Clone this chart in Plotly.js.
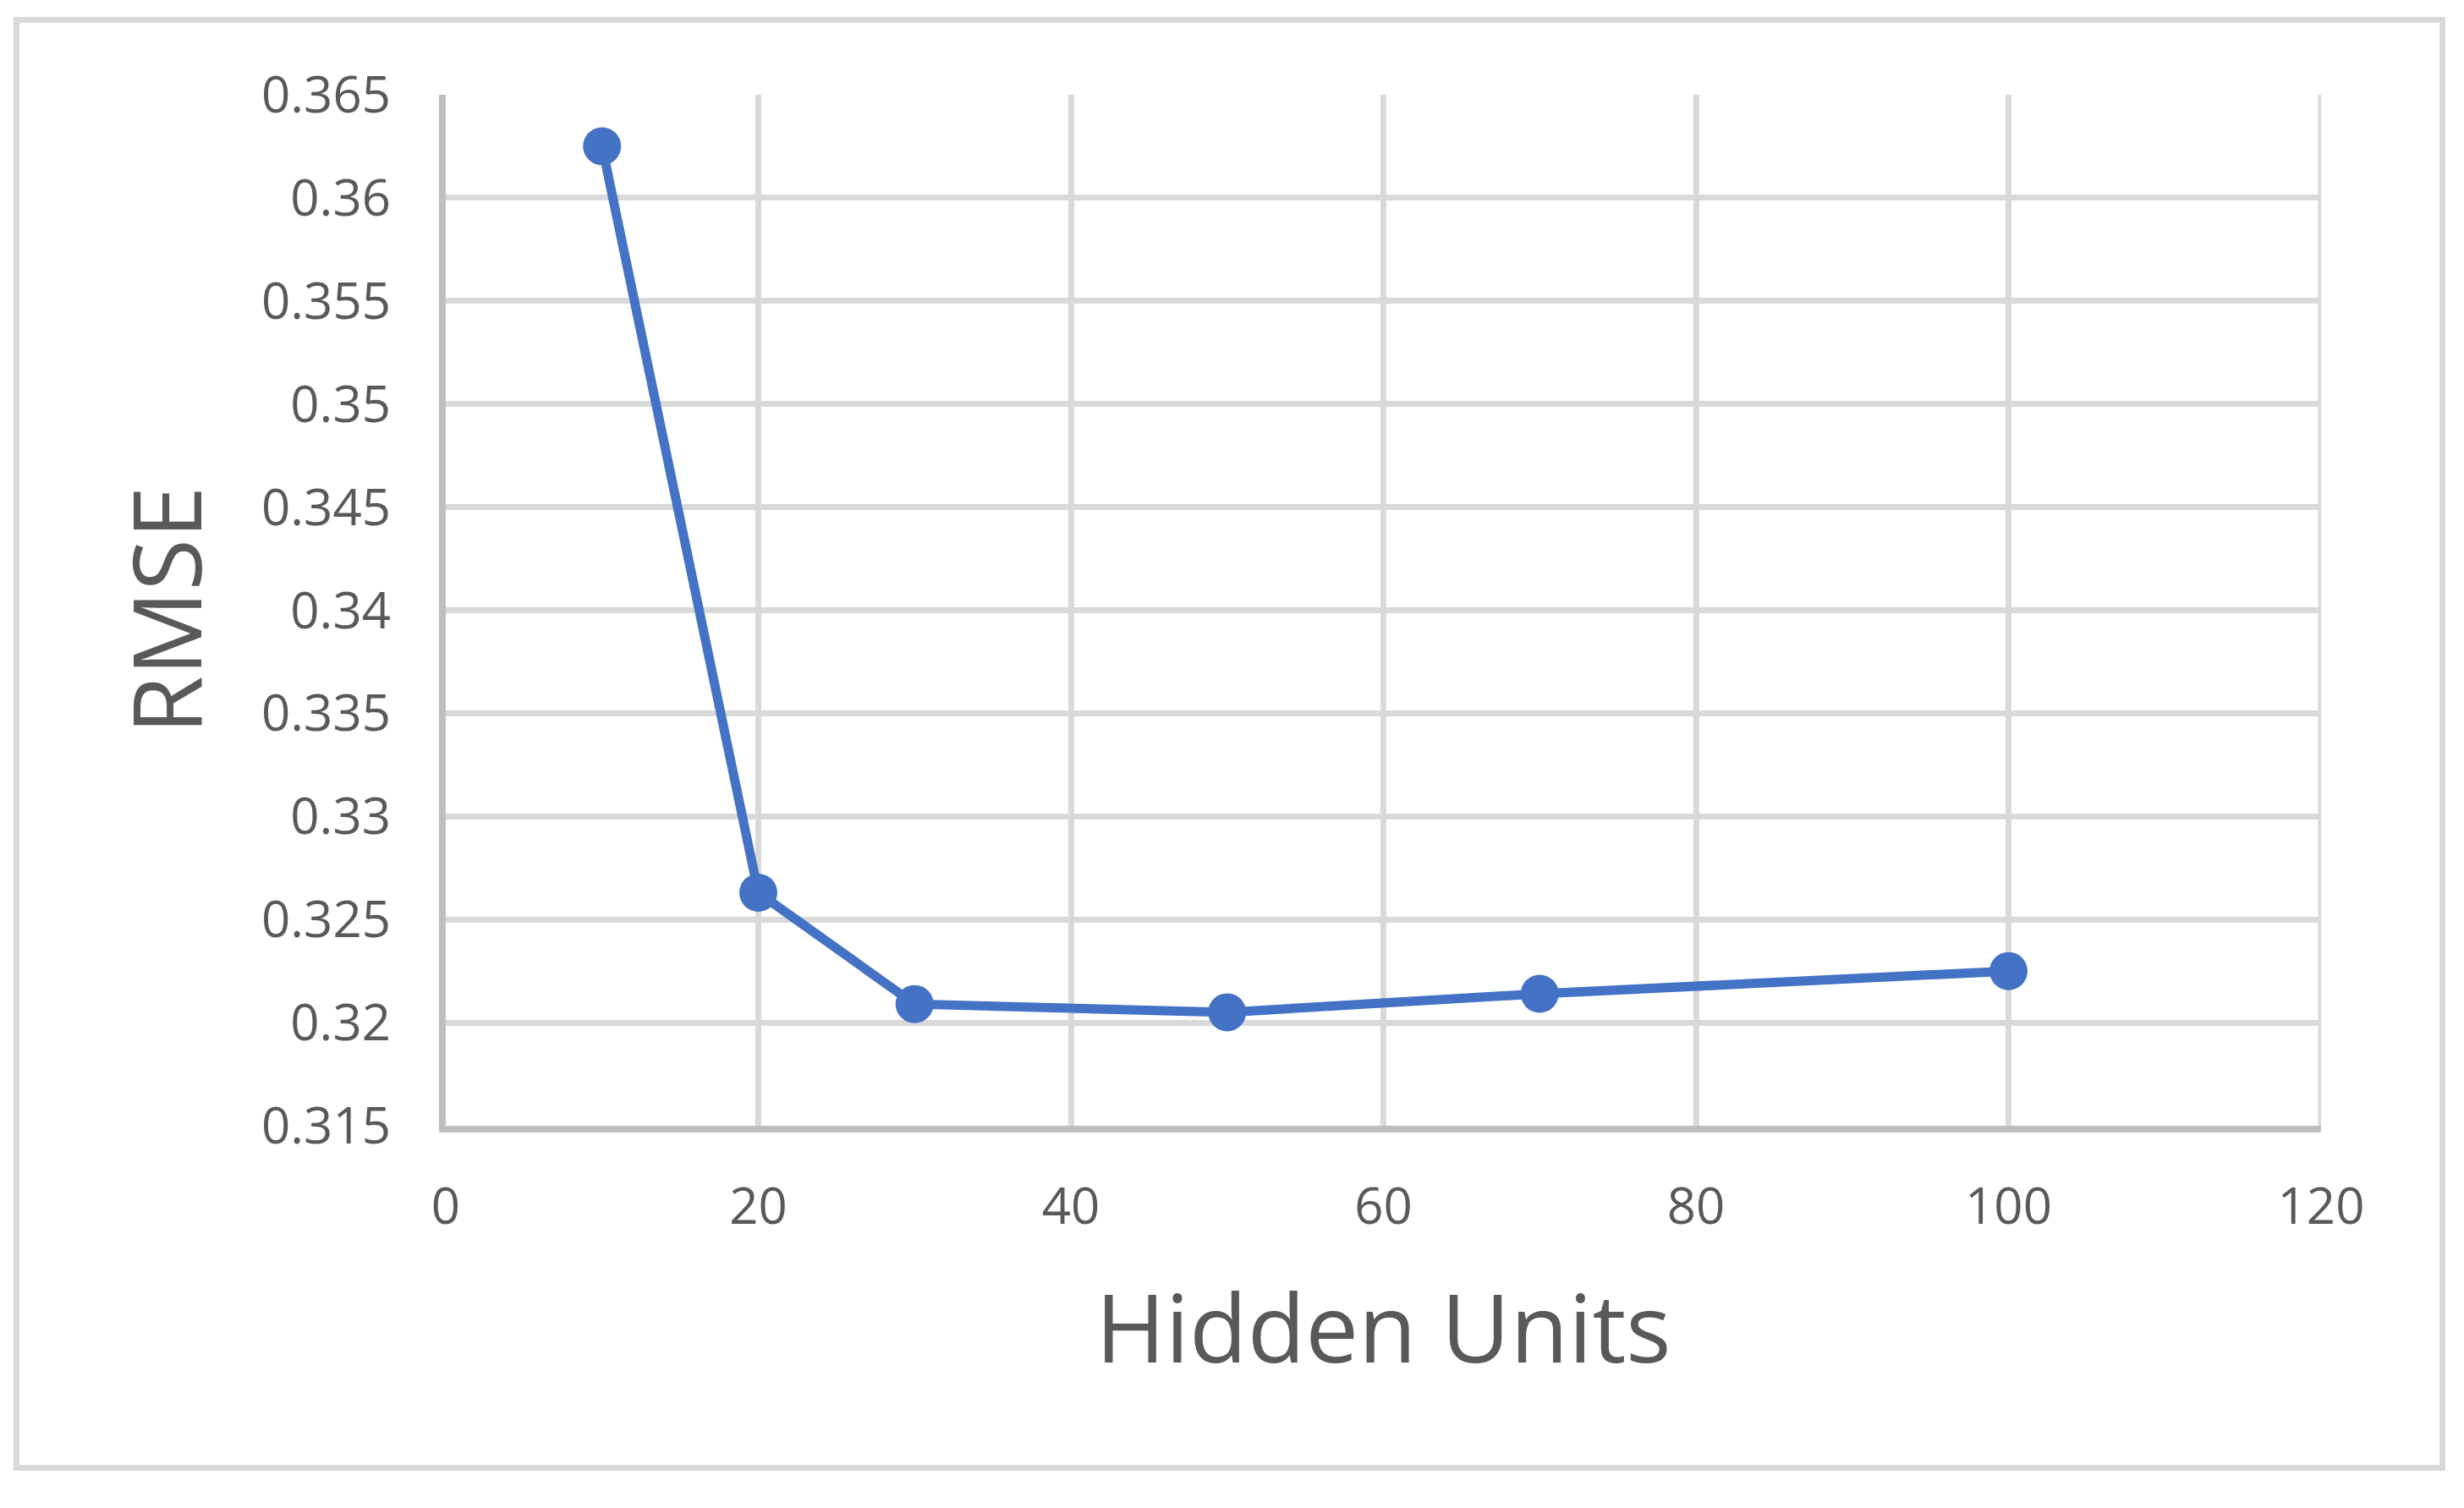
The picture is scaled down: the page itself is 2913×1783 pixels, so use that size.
<!DOCTYPE html>
<html>
<head>
<meta charset="utf-8">
<script src="https://cdn.plot.ly/plotly-3.0.1.min.js"></script>
<style>
  html, body { margin: 0; padding: 0; background: #fff; }
  #wrap { position: relative; width: 2913px; height: 1783px; }
  #chart { width: 2913px; height: 1783px; }
  #frame {
    position: absolute; left: 16px; top: 20px; width: 2875px; height: 1719px;
    box-sizing: border-box; border: 7px solid #d9d9d9; pointer-events: none;
  }
</style>
</head>
<body>
<div id="wrap">
  <div id="chart"></div>
  <div id="frame"></div>
</div>
<script>
// --- Data ---
const hiddenUnits = [10, 20, 30, 50, 70, 100];
const rmse = [0.3625, 0.3263, 0.3209, 0.3205, 0.3214, 0.3225];

const xTickVals = [0, 20, 40, 60, 80, 100, 120];
const yTickVals = [0.315, 0.32, 0.325, 0.33, 0.335, 0.34, 0.345, 0.35, 0.355, 0.36, 0.365];
const yTickText = ['0.315', '0.32', '0.325', '0.33', '0.335', '0.34', '0.345', '0.35', '0.355', '0.36', '0.365'];

const textColor = '#595959';
const gridColor = '#d9d9d9';
const fontFamily = '"Open Sans", "Noto Sans", sans-serif';

const trace = {
    x: hiddenUnits,
    y: rmse,
    mode: 'lines+markers',
    line: { color: '#4472c4', width: 11 },
    marker: { color: '#4472c4', size: 45 },
    hoverinfo: 'x+y'
};

// Plotly skips the gridline at the far end of the x range, so draw it as a shape
const xMax = xTickVals[xTickVals.length - 1];

const layout = {
    width: 2913,
    height: 1783,
    margin: { l: 527, r: 169, t: 112, b: 452 },
    paper_bgcolor: '#ffffff',
    plot_bgcolor: '#ffffff',
    showlegend: false,
    font: { family: fontFamily, color: textColor },
    shapes: [{
        type: 'line', xref: 'x', yref: 'paper',
        x0: xMax, x1: xMax, y0: 0, y1: 1,
        line: { color: gridColor, width: 7 },
        layer: 'below'
    }],
    xaxis: {
        range: [0, xMax],
        tickvals: xTickVals,
        ticks: '',
        ticklabelstandoff: 36,
        tickfont: { size: 60, color: textColor },
        showgrid: true,
        gridcolor: gridColor,
        gridwidth: 7,
        showline: true,
        linecolor: '#bfbfbf',
        linewidth: 8,
        zeroline: false,
        title: { text: 'Hidden Units', font: { size: 112, color: textColor }, standoff: 72 }
    },
    yaxis: {
        range: [0.315, 0.365],
        tickvals: yTickVals,
        ticktext: yTickText,
        ticks: '',
        ticklabelstandoff: 45,
        tickfont: { size: 60, color: textColor },
        showgrid: true,
        gridcolor: gridColor,
        gridwidth: 7,
        showline: true,
        linecolor: '#bfbfbf',
        linewidth: 8,
        zeroline: false,
        title: { text: 'RMSE', font: { size: 112, color: textColor }, standoff: 36 }
    }
};

Plotly.newPlot('chart', [trace], layout, { staticPlot: true });
</script>
</body>
</html>
